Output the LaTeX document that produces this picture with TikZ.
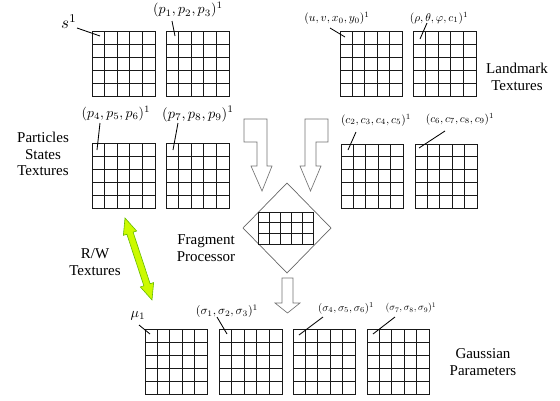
\documentclass[tikz,border=0pt]{standalone}
\usepackage{graphicx}
\usepackage[no-math]{fontspec}
\setmainfont{Liberation Serif}
\usetikzlibrary{calc}
% math label set at 10pt and scaled to the wanted size
\newcommand\mlab[2]{\scalebox{#1}{$#2$}}
% a texture: framed box split into columns x rows cells
\newcommand\texgrid[7]{% name, left, top, width, height, columns, rows
  \node[gridbox, anchor=north west, minimum width=#4pt, minimum height=#5pt] (#1) at (#2,#3) {};
  \pgfmathtruncatemacro\ncolm{#6-1}
  \pgfmathtruncatemacro\nrowm{#7-1}
  \foreach \i in {1,...,\ncolm}
    \draw[gridline] ($(#1.north west)!\i/#6!(#1.north east)$) -- ($(#1.south west)!\i/#6!(#1.south east)$);
  \foreach \j in {1,...,\nrowm}
    \draw[gridline] ($(#1.north west)!\j/#7!(#1.south west)$) -- ($(#1.north east)!\j/#7!(#1.south east)$);
}
\tikzset{
  gridbox/.style={draw=black!90, line width=0.95pt, inner sep=0pt, outer sep=0pt},
  gridline/.style={draw=black!90, line width=0.95pt},
  lead/.style={draw=black, line width=0.85pt},
  lab/.style={inner sep=0pt, font=\fontsize{10}{12}\selectfont},
  caption/.style={inner sep=0pt, align=center, font=\fontsize{15}{16.5}\selectfont},
  hollow/.style={draw=black!55, line width=0.65pt, fill=white, line join=miter},
  rw/.style={draw=black!45!green!60!yellow, line width=0.6pt, fill={rgb,255:red,204;green,250;blue,0}},
}
\begin{document}
\begin{tikzpicture}[x=1pt, y=-1pt]
\useasboundingbox (0,0) rectangle (560,400);

% particle state textures
\texgrid{T1}{92}{31}{63}{65}{5}{5}
\texgrid{T2}{166}{31}{63}{65}{5}{5}
\texgrid{M1}{92}{143}{63}{65}{5}{5}
\texgrid{M2}{166}{143}{63}{65}{5}{5}
% landmark textures
\texgrid{T3}{340}{31}{62}{65}{5}{5}
\texgrid{T4}{413}{31}{63}{65}{5}{5}
\texgrid{M3}{341}{144}{62}{64}{5}{5}
\texgrid{M4}{415}{144}{62}{64}{5}{5}
% gaussian parameter textures
\texgrid{B1}{145}{329}{62}{65}{5}{5}
\texgrid{B2}{219}{329}{63}{65}{5}{5}
\texgrid{B3}{293}{329}{62}{65}{5}{5}
\texgrid{B4}{367}{329}{62}{65}{5}{5}

% fragment processor
\draw[draw=black!60, line width=0.7pt] (243,228) -- (287,183) -- (331,228) -- (287,273) -- cycle;
\texgrid{FP}{258}{212}{55}{32}{5}{3}

% input arrows into the processor
\draw[hollow] (244,119) -- (267,119) -- (267,166) -- (272,166) -- (262,191)
  -- (251,166) -- (257,166) -- (257,142) -- (244,142) -- cycle;
\draw[hollow] (305,119) -- (328,119) -- (328,142) -- (316,142) -- (316,166)
  -- (321,166) -- (310.5,191) -- (300,166) -- (305,166) -- cycle;
% output arrow
\draw[hollow] (282,278) -- (293,278) -- (293,303) -- (300,303) -- (287.5,313)
  -- (275,303) -- (282,303) -- cycle;

% read/write double arrow
\begin{scope}[shift={(125,218)}, rotate=-71.77]
  \draw[rw] (0pt,0pt) -- (16pt,7pt) -- (16pt,3.3pt) -- (70.3pt,3.3pt) -- (70.3pt,7pt)
    -- (86.3pt,0pt) -- (70.3pt,-7pt) -- (70.3pt,-3.3pt) -- (16pt,-3.3pt) -- (16pt,-7pt) -- cycle;
\end{scope}

% captions
\node[caption] (capL) at (517,77) {Landmark\\Textures};
\node[caption] (capP) at (43,154) {Particles\\States\\Textures};
\node[caption] (capRW) at (95,262) {R/W\\Textures};
\node[caption] (capF) at (206,248) {Fragment\\Processor};
\node[caption] (capG) at (483,362) {Gaussian\\Parameters};

% texture labels with leaders
\node[lab] (ls) at (69,22) {\mlab{1.7}{s^1}};
\coordinate (ls0) at (77,28);
\draw[lead] (ls0) -- ($(T1.north west)+(8,5)$);

\node[lab] (lp1) at (188,10) {\mlab{1.4}{(p_1,p_2,p_3)^1}};
\coordinate (lp10) at (172,21);
\draw[lead] (lp10) -- ($(T2.north west)+(9,5)$);

\node[lab] (lu) at (337,18) {\mlab{1.16}{(u,v,x_0,y_0)^1}};
\coordinate (lu0) at (330,28);
\draw[lead] (lu0) -- ($(T3.north west)+(5,6)$);

\node[lab] (lr) at (439,18) {\mlab{1.14}{(\rho,\theta,\varphi,c_1)^1}};
\coordinate (lr0) at (427,23);
\draw[lead] (lr0) -- ($(T4.north west)+(7,8)$);

\node[lab] (lp4) at (116,114) {\mlab{1.38}{(p_4,p_5,p_6)^1}};
\coordinate (lp40) at (100,123);
\draw[lead] (lp40) -- ($(M1.north west)+(5,7)$);

\node[lab] (lp7) at (198,114) {\mlab{1.44}{(p_7,p_8,p_9)^1}};
\coordinate (lp70) at (178,123);
\draw[lead] (lp70) -- ($(M2.north west)+(7,7)$);

\node[lab] (lc2) at (376,120) {\mlab{1.15}{(c_2,c_3,c_4,c_5)^1}};
\coordinate (lc20) at (356,132);
\draw[lead] (lc20) -- ($(M3.north west)+(7,6)$);

\node[lab] (lc6) at (460,119) {\mlab{1.12}{(c_6,c_7,c_8,c_9)^1}};
\coordinate (lc60) at (445,131);
\draw[lead] (lc60) -- ($(M4.north west)+(4,4)$);

\node[lab] (lm) at (138,316) {\mlab{1.4}{\mu_1}};
\coordinate (lm0) at (139,325);
\draw[lead] (lm0) -- ($(B1.north west)+(5,5)$);

\node[lab] (ls1) at (227,311) {\mlab{1.2}{(\sigma_1,\sigma_2,\sigma_3)^1}};
\coordinate (ls10) at (217,317);
\draw[lead] (ls10) -- ($(B2.north west)+(8,5)$);

\node[lab] (ls4) at (346,308) {\mlab{1.08}{(\sigma_4,\sigma_5,\sigma_6)^1}};
\coordinate (ls40) at (323,317);
\draw[lead] (ls40) -- ($(B3.north west)+(6,6)$);

\node[lab] (ls7) at (411,308) {\mlab{0.98}{(\sigma_7,\sigma_8,\sigma_9)^1}};
\coordinate (ls70) at (395,317);
\draw[lead] (ls70) -- ($(B4.north west)+(6,5)$);
\end{tikzpicture}
\end{document}
